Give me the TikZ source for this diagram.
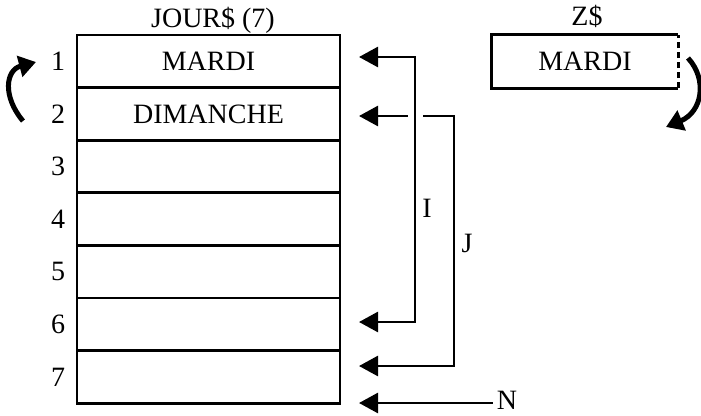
\documentclass[tikz,border=0pt]{standalone}
\usepackage{fontspec}
\setmainfont{Liberation Serif}
\usetikzlibrary{arrows.meta}

\tikzset{
  cell/.style={draw, line width=2.7pt, minimum width=263, minimum height=52.6, inner sep=0pt},
  ptr/.style={line width=2.7pt, {Triangle[length=19pt,width=20pt]}-},
  curl/.style={line width=5pt, -{Triangle[length=17pt,width=21pt]}}
}

\begin{document}
\begin{tikzpicture}[x=1pt, y=-1pt, font=\fontsize{28}{30}\selectfont]
  \useasboundingbox (0,0) rectangle (701,415);

  % the array and its indices
  \node at (213,20) {JOUR\$ (7)};
  \foreach \i/\txt in {1/MARDI, 2/DIMANCHE, 3/, 4/, 5/, 6/, 7/} {
    \node[cell] (r\i) at (208.5, 35+52.6*\i-26.3) {\txt};
    \node (n\i) at (58, 35+52.6*\i-26.3) {\i};
  }

  % the spare variable
  \node at (587,16) {Z\$};
  \node[minimum width=186, minimum height=53, inner sep=0pt] (z) at (585,61.5) {MARDI};
  \draw[line width=2.7pt] (z.north east) -- (z.north west) -- (z.south west) -- (z.south east);
  \draw[line width=2.7pt, dash pattern=on 6pt off 4pt] (z.south east) -- (z.north east);

  % the swap
  \draw[curl] (23,121) .. controls (2,96) and (6,70) .. (36,62);
  \draw[curl] (688,58) .. controls (708,80) and (702,112) .. (666,127);

  % the pointers I, J and N
  \coordinate (t1) at (359,57);
  \coordinate (t2) at (359,116);
  \coordinate (t6) at (359,322);
  \coordinate (t7) at (359,366);
  \coordinate (tn) at (359,403);
  \coordinate (itop) at (415,57);
  \coordinate (ibot) at (415,322);
  \coordinate (jcut) at (408,116);
  \coordinate (jin) at (423,116);
  \coordinate (jtop) at (454,116);
  \coordinate (jbot) at (454,366);

  \draw[ptr, {Triangle[length=19pt,width=20pt]}-{Triangle[length=19pt,width=20pt]}]
    (t1) -- (itop) -- (ibot) -- (t6);
  \draw[ptr] (t2) -- (jcut);
  \draw[ptr] (t7) -- (jbot) -- (jtop) -- (jin);
  \node (ilbl) at (427,208) {I};
  \node (jlbl) at (467,243) {J};
  \node[inner ysep=0pt] (nlbl) at (507,400) {N};
  \draw[ptr] (tn) -- (tn -| nlbl.west);
\end{tikzpicture}
\end{document}
